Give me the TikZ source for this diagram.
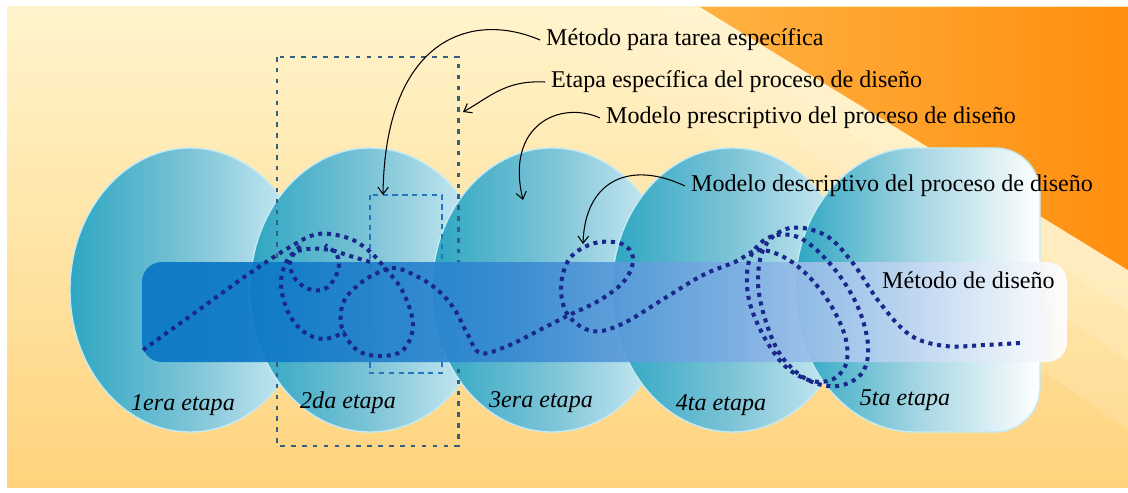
\documentclass[tikz,border=0pt]{standalone}
\usepackage{fontspec}
\setmainfont{Liberation Serif}
\usetikzlibrary{arrows.meta}

\definecolor{bgtop}{RGB}{255,244,204}
\definecolor{bgbot}{RGB}{255,211,125}
\definecolor{bandpale}{RGB}{255,245,212}
\definecolor{orangeL}{RGB}{255,178,66}
\definecolor{orangeR}{RGB}{255,142,14}
\definecolor{stageL}{RGB}{46,166,194}
\definecolor{stageM}{RGB}{125,196,215}
\definecolor{stageR}{RGB}{214,239,247}
\definecolor{stageRim}{RGB}{196,234,244}
\definecolor{pathblue}{RGB}{26,40,140}
\definecolor{boxline}{RGB}{52,96,128}
\definecolor{subline}{RGB}{38,118,188}

\pgfdeclarehorizontalshading{barshade}{100bp}{rgb(0bp)=(0.04,0.467,0.78); rgb(30bp)=(0.04,0.467,0.78); rgb(45bp)=(0.22,0.54,0.82); rgb(57bp)=(0.49,0.68,0.89); rgb(67bp)=(0.77,0.85,0.95); rgb(75bp)=(1,1,1); rgb(100bp)=(1,1,1)}

\tikzset{
  stage/.style={left color=stageL, right color=stageR, middle color=stageM, draw=stageRim, line width=0.8pt},
  stagelast/.style={left color=stageL, right color=white, middle color=stageM!70!white, draw=stageRim, line width=0.8pt},
  stagebox/.style={boxline, line width=1.7pt, dash pattern=on 2.6pt off 3.6pt},
  taskbox/.style={subline, line width=1.5pt, dash pattern=on 3pt off 2.6pt},
  methodpath/.style={pathblue, line width=2.3pt, dash pattern=on 2.3pt off 2.7pt},
  note/.style={anchor=west, font=\fontsize{13.7}{16}\selectfont},
  stagelab/.style={font=\fontsize{13.7}{16}\selectfont\itshape},
  pointer/.style={->, >={Straight Barb[length=4pt, width=6pt]}, line width=0.6pt, black}
}

\begin{document}
\begin{tikzpicture}[x=0.02cm, y=-0.02cm]
  \useasboundingbox (0,0) rectangle (1128,493);

  % background
  \shade[top color=bgtop, bottom color=bgbot] (7,7) rectangle (1128,487);
  \fill[bandpale, opacity=.2] (520,7) -- (700,7) -- (1128,270) -- (1128,430) -- cycle;
  \fill[bandpale, opacity=.25] (590,7) -- (700,7) -- (1128,270) -- (1128,360) -- cycle;
  \fill[bandpale, opacity=.35] (650,7) -- (700,7) -- (1128,270) -- (1128,310) -- cycle;
  \shade[left color=orangeL, right color=orangeR] (700,7) -- (1128,7) -- (1128,270) -- cycle;

  % stages
  \foreach \cx in {190,370,552,732}
    \shade[stage] (\cx,290) ellipse [x radius=120, y radius=142];
  \shade[stagelast] (915,432) arc[start angle=90, end angle=270, x radius=120, y radius=142]
    [rounded corners=0.9cm] -- (1040,148) -- (1040,432) [sharp corners] -- cycle;

  % boxes
  \draw[stagebox] (277,57) rectangle (458,446);
  \draw[taskbox] (370,195) rectangle (442,373);

  % design method bar
  \shade[shading=barshade, rounded corners=0.4cm, opacity=.93] (142,262) rectangle (1067,362);

  % descriptive model path
  \draw[methodpath] plot[smooth, tension=0.6] coordinates {
    (143,350) (200,309) (250,273) (290,247) (318,234) (348,238) (368,250)
    (385,268) (403,292) (413,325) (403,350) (380,356) (357,350) (342,328)
    (343,303) (357,286) (375,274) (395,268) (420,278) (440,292) (455,310)
    (467,333) (480,353) (505,347) (530,335) (563,318) (600,300) (625,280)
    (633,258) (622,244) (595,243) (570,258) (561,287) (568,315) (592,331)
    (622,324) (665,298) (703,275) (735,262) (760,250) (792,262) (822,292)
    (843,330) (847,360) (835,378) (812,381) (785,366) (762,333) (748,295)
    (750,258) (770,237) (800,238) (832,266) (857,305) (868,345) (862,373)
    (838,386) (808,380) (782,357) (766,322) (758,282) (765,246) (790,228)
    (825,235) (852,262) (880,303) (910,335) (945,346) (985,345) (1020,343)};
  \draw[methodpath] plot[smooth, tension=0.6] coordinates {
    (370,262) (350,256) (330,250) (308,249) (290,256) (281,282) (288,312)
    (304,332) (324,339) (345,332)};
  \draw[methodpath] plot[smooth, tension=0.6] coordinates {
    (300,246) (290,262) (296,280) (312,290) (328,287) (338,270) (337,255) (325,245)};

  % stage names
  \foreach \x/\y/\t [count=\i] in {183/405/1era, 348/403/2da, 541/402/3era, 721/405/4ta, 905/400/5ta}
    \node[stagelab] (lab\i) at (\x,\y) {\t\ etapa};

  % labels and pointers
  \coordinate (taskin) at (383,195);
  \coordinate (stagein) at (463,112);
  \coordinate (prescin) at (523,200);
  \coordinate (descin) at (583,244);

  \node[note] (tarea) at (540,40) {Método para tarea específica};
  \node[note] (etapa) at (545,82) {Etapa específica del proceso de diseño};
  \node[note] (presc) at (600,118) {Modelo prescriptivo del proceso de diseño};
  \node[note] (descr) at (685,186) {Modelo descriptivo del proceso de diseño};
  \node[note] (metodo) at (876,280) {Método de diseño};

  \draw[pointer] (tarea.west) .. controls (470,10) and (385,40) .. (taskin);
  \draw[pointer] (etapa.west) .. controls (505,80) and (490,97) .. (stagein);
  \draw[pointer] (presc.west) .. controls (560,100) and (505,125) .. (prescin);
  \draw[pointer] (descr.west) .. controls (630,160) and (585,180) .. (descin);
\end{tikzpicture}
\end{document}
